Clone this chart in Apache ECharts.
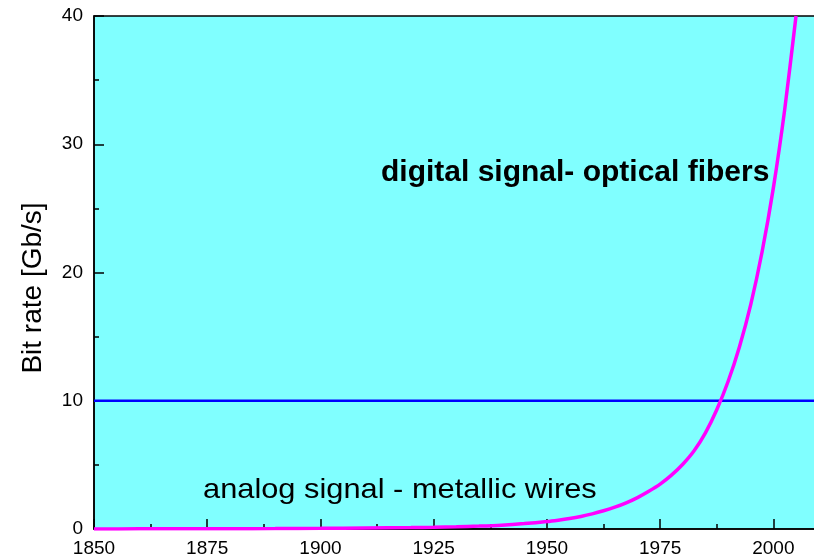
<!DOCTYPE html>
<html>
<head>
<meta charset="utf-8">
<script src="https://cdn.jsdelivr.net/npm/echarts@6/dist/echarts.min.js"></script>
<style>
html,body{margin:0;padding:0;background:#fff;overflow:hidden;width:814px;height:560px;}
#chart{width:900px;height:560px;}
</style>
</head>
<body>
<div id="chart"></div>
<script>
// Data
const years   = [1850, 1860, 1870, 1880, 1890, 1900, 1910, 1920, 1925, 1930, 1935, 1940, 1945, 1950, 1952.5, 1955, 1957.5, 1960, 1962.5, 1965, 1967.5, 1970, 1972.5, 1975, 1977.5, 1980, 1982.5, 1985, 1987.5, 1990, 1992.5, 1995, 1997.5, 2000, 2002.5, 2005];
const bitRate = [0.0, 0.01, 0.01, 0.02, 0.03, 0.05, 0.08, 0.11, 0.14, 0.18, 0.23, 0.3, 0.42, 0.58, 0.69, 0.82, 0.98, 1.18, 1.42, 1.7, 2.04, 2.45, 2.94, 3.5, 4.2, 5.05, 6.1, 7.5, 9.3, 11.5, 14.2, 17.5, 21.6, 26.6, 32.7, 40];
const limitYears = [1850, 2025];
const limitValue = [10, 10];
const xTicks = [1850, 1875, 1900, 1925, 1950, 1975, 2000];
const yTicks = [0, 10, 20, 30, 40];
const yName = 'Bit rate [Gb/s]';
const digitalText = 'digital signal- optical fibers';
const analogText = 'analog signal - metallic wires';

const curve = years.map((y, i) => [y, bitRate[i]]);
const limit = limitYears.map((y, i) => [y, limitValue[i]]);

const chart = echarts.init(document.getElementById('chart'), null, {renderer: 'canvas'});
const font = "'Liberation Sans', Arial, sans-serif";
chart.setOption({
  animation: false,
  backgroundColor: '#ffffff',
  grid: {
    left: 94, top: 16, width: 792.6, bottom: 31,
    show: true, backgroundColor: '#80ffff', borderColor: '#000', borderWidth: 1.5
  },
  xAxis: {
    type: 'value', min: xTicks[0], max: 2025, interval: 25,
    axisLine: {lineStyle: {color: '#000', width: 1.5}},
    axisTick: {inside: true, length: 10, lineStyle: {color: '#000', width: 1.5}},
    minorTick: {show: true, splitNumber: 2, length: 5, lineStyle: {color: '#000', width: 1.5}},
    splitLine: {show: false},
    axisLabel: {color: '#000', fontSize: 19, fontFamily: font, margin: 10,
      formatter: v => xTicks.indexOf(v) >= 0 ? String(v) : ''}
  },
  yAxis: {
    type: 'value', min: yTicks[0], max: yTicks[yTicks.length - 1], interval: 10,
    axisLine: {lineStyle: {color: '#000', width: 1.5}},
    axisTick: {inside: true, length: 10, lineStyle: {color: '#000', width: 1.5}},
    minorTick: {show: true, splitNumber: 2, length: 5, lineStyle: {color: '#000', width: 1.5}},
    splitLine: {show: false},
    axisLabel: {color: '#000', fontSize: 19, fontFamily: font, margin: 11}
  },
  series: [
    {
      type: 'line', data: limit, symbol: 'none',
      lineStyle: {color: '#0000ff', width: 2.5}, z: 2
    },
    {
      type: 'line', data: curve, symbol: 'none', smooth: 0.25,
      lineStyle: {color: '#ff00ff', width: 3.5}, z: 3
    }
  ],
  graphic: [
    {type: 'text', x: 33, y: 288, rotation: Math.PI / 2, z: 10,
      style: {text: yName, fill: '#000', align: 'center', verticalAlign: 'middle',
        font: "28px 'Liberation Sans', Arial, sans-serif"}},
    {type: 'text', x: 381, y: 173, z: 10,
      style: {text: digitalText, fill: '#000', verticalAlign: 'middle',
        font: "bold 30px 'Liberation Sans', Arial, sans-serif"}},
    {type: 'text', x: 203, y: 490, scaleX: 1.1, z: 10,
      style: {text: analogText, fill: '#000', verticalAlign: 'middle',
        font: "28px 'Liberation Sans', Arial, sans-serif"}}
  ]
});
</script>
</body>
</html>
